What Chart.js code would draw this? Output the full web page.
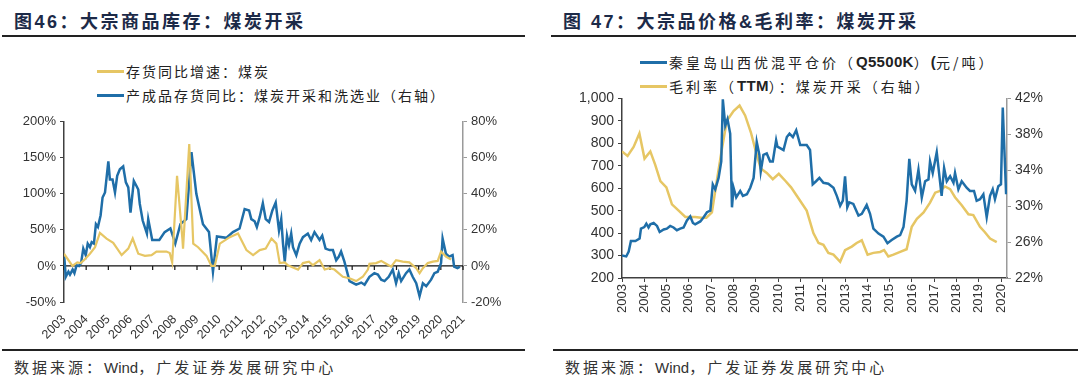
<!DOCTYPE html>
<html>
<head>
<meta charset="utf-8">
<script src="https://cdn.jsdelivr.net/npm/chart.js@4.4.1/dist/chart.umd.min.js"></script>
<style>
  body { margin: 0; width: 1080px; height: 386px; background: #fff; position: relative; overflow: hidden;
         font-family: "Liberation Sans", Arial, "Noto Sans CJK SC", sans-serif; }
  .title { position: absolute; top: 7px; font: bold 18px "Liberation Sans", "Noto Sans CJK SC", sans-serif;
           color: #1c2a48; letter-spacing: 2.5px; white-space: nowrap; }
  .rule { position: absolute; height: 2px; background: #222; }
  .legend { position: absolute; font: 14px "Noto Sans CJK SC", sans-serif; color: #222; letter-spacing: 2px; white-space: nowrap; }
  .legend div { height: 24px; line-height: 24px; display: flex; align-items: center; }
  .legend i { display: inline-block; width: 27px; height: 3px; margin-right: 2px; }
  .legend b { font-family: "Liberation Sans", Arial, sans-serif; font-size: 15px; letter-spacing: 0.3px; }
  .source { position: absolute; top: 356px; font: 15px "Noto Sans CJK SC", sans-serif; color: #333; letter-spacing: 3px; white-space: nowrap; }
  .source span { font-family: "Liberation Sans", Arial, sans-serif; letter-spacing: 0; }
  canvas { position: absolute; }
</style>
</head>
<body>
<div class="title" style="left:14px">图46：大宗商品库存：煤炭开采</div>
<div class="rule" style="left:2px; top:35px; width:523px"></div>
<div class="legend" style="left:97px; top:59px">
  <div><i style="background:#E6C664"></i>存货同比增速：煤炭</div>
  <div><i style="background:#1F6EA8"></i>产成品存货同比：煤炭开采和洗选业（右轴）</div>
</div>
<canvas id="left" width="510" height="230" style="left:0; top:110px"></canvas>
<div class="rule" style="left:2px; top:349px; width:523px; height:1.5px"></div>
<div class="source" style="left:14px">数据来源：<span>Wind</span>，广发证券发展研究中心</div>

<div class="title" style="left:563px">图 47：大宗品价格&amp;毛利率：煤炭开采</div>
<div class="rule" style="left:551px; top:35px; width:525px"></div>
<div class="legend" style="left:640px; top:50px; letter-spacing: 3px">
  <div><i style="background:#1F6EA8"></i>秦皇岛山西优混平仓价（<b>Q5500K</b>）<b>(</b>元/吨）</div>
  <div><i style="background:#E6C664"></i>毛利率（<b>TTM</b>）：煤炭开采（右轴）</div>
</div>
<canvas id="right" width="540" height="254" style="left:540px; top:86px"></canvas>
<div class="rule" style="left:553px; top:349px; width:525px; height:1.5px"></div>
<div class="source" style="left:565px">数据来源：<span>Wind</span>，广发证券发展研究中心</div>

<script>
// ---- Figure 46 data ----
const stockYears = [2003.0, 2003.38, 2003.6, 2003.75, 2003.9, 2004.17, 2004.4, 2004.62, 2004.92, 2005.22, 2005.6, 2005.9,
  2006.1, 2006.35, 2006.65, 2006.95, 2007.17, 2007.62, 2007.77, 2007.88, 2008.1, 2008.34, 2008.37, 2008.65, 2008.83,
  2009.05, 2009.43, 2009.65, 2009.8, 2010.03, 2010.48, 2010.85, 2011.23, 2011.53, 2011.83, 2012.1, 2012.36, 2012.58,
  2012.73, 2012.96, 2013.1, 2013.33, 2013.56, 2013.78, 2014.05, 2014.23, 2014.53, 2014.76, 2014.98, 2015.2, 2015.58,
  2015.88, 2016.18, 2016.48, 2016.71, 2016.78, 2017.08, 2017.31, 2017.53, 2017.76, 2017.98, 2018.28, 2018.58, 2018.89,
  2019.04, 2019.19, 2019.41, 2019.64, 2019.86, 2020.01, 2020.23, 2020.46];
const stockGrowth = [17, 0, 5, 4, 8, 17, 26, 46, 38, 32, 15, 24,
  38, 17, 14, 15, 20, 20, 18, 5, 125, 38, 24, 169, 31,
  26, 14, 0, 0, 31, 40, 45, 22, 15, 22, 24, 38, 31,
  4, 5, 1, -2, -5, 4, 6, 1, 8, -5, -3, -5, -15,
  -17, -21, -15, -5, 3, 4, 7, 3, -1, 8, 6, 5, -3,
  -10, -3, 4, 6, 7, 20, 13, 9];

const finishedYears = [2003.01, 2003.08, 2003.2, 2003.27, 2003.39, 2003.47, 2003.57, 2003.68, 2003.77, 2003.87, 2003.98,
  2004.07, 2004.17, 2004.25, 2004.35, 2004.44, 2004.53, 2004.65, 2004.74, 2004.85, 2005.0, 2005.07, 2005.19, 2005.3,
  2005.4, 2005.52, 2005.67, 2005.79, 2005.9, 2006.0, 2006.15, 2006.27, 2006.35, 2006.42, 2006.55, 2006.74, 2006.8,
  2006.98, 2007.3, 2007.54, 2007.8, 2008.02, 2008.25, 2008.52, 2008.75, 2008.97, 2009.27, 2009.54, 2009.72, 2009.9,
  2010.32, 2010.62, 2010.92, 2011.15, 2011.35, 2011.45, 2011.6, 2011.7, 2011.83, 2011.97, 2012.1, 2012.25, 2012.4,
  2012.55, 2012.7, 2012.8, 2012.88, 2012.96, 2013.06, 2013.15, 2013.25, 2013.33, 2013.48, 2013.63, 2013.78, 2014.0,
  2014.15, 2014.3, 2014.53, 2014.65, 2014.8, 2014.98, 2015.13, 2015.28, 2015.4, 2015.5, 2015.65, 2015.88, 2016.18,
  2016.41, 2016.56, 2016.78, 2017.0, 2017.16, 2017.31, 2017.46, 2017.65, 2017.83, 2017.98, 2018.1, 2018.21, 2018.43,
  2018.58, 2018.73, 2018.89, 2019.04, 2019.19, 2019.34, 2019.56, 2019.71, 2019.86, 2020.01, 2020.08, 2020.23, 2020.38,
  2020.53, 2020.6, 2020.75, 2020.86];
const finishedGrowth = [5.2, -6, -3.2, -4.8, -2, -4, 0.4, 0, 1.6, 9.6, 6,
  12.4, 10.4, 13.2, 12.4, 23.2, 21.6, 28, 38, 40.8, 58, 48, 48, 40.8,
  50, 53.6, 55.2, 46.4, 43.6, 29.6, 47.2, 44.4, 42.4, 34.4, 25.2, 18, 26,
  14.4, 14.4, 18.8, 20.8, 12.4, 23.2, 26, 63.2, 40, 23.2, 18.8, -3.2, 16.4,
  15.6, 18.8, 20.8, 31.6, 30.8, 26, 24.8, 21.6, 27.2, 34.8, 26, 24.4, 30.8,
  35.2, 19.6, 26, 12.4, 2.4, 16.8, 11.6, 18, 10.4, 6, 12.4, 16, 18,
  14.4, 18.8, 14.4, 16.8, 9.6, 8.8, 8.8, 3.2, 5.2, 8, 2.4, -8.4, -10.4,
  -9.2, -10.4, -6, -4, -4.8, -7.6, -8.4, -6, -2, -9.6, -4, -8.4, -4,
  -2, -6, -9.6, -16.8, -9.6, -11.2, -7.6, -4, -3.2, 1.6, 15.2, 6.8, 5.2,
  6, -0.4, -1.2, -0.4];
const leftYearTicks = [2003, 2004, 2005, 2006, 2007, 2008, 2009, 2010, 2011, 2012, 2013, 2014, 2015, 2016, 2017, 2018, 2019, 2020, 2021];

// ---- Figure 47 data ----
const priceYears = [2003.0, 2003.19, 2003.3, 2003.4, 2003.6, 2003.79, 2003.85, 2004.0, 2004.09, 2004.19, 2004.27, 2004.42,
  2004.57, 2004.69, 2004.87, 2005.01, 2005.16, 2005.31, 2005.46, 2005.61, 2005.76, 2005.91, 2006.06, 2006.18, 2006.28,
  2006.51, 2006.66, 2006.81, 2006.96, 2007.07, 2007.18, 2007.33, 2007.45, 2007.52, 2007.63, 2007.73, 2007.85, 2007.93,
  2008.0, 2008.12, 2008.3, 2008.42, 2008.6, 2008.75, 2008.9, 2009.04, 2009.16, 2009.22, 2009.34, 2009.49, 2009.64,
  2009.76, 2009.91, 2009.97, 2010.24, 2010.39, 2010.51, 2010.66, 2010.81, 2010.99, 2011.28, 2011.43, 2011.55, 2011.7,
  2011.85, 2012.03, 2012.25, 2012.48, 2012.63, 2012.78, 2012.9, 2013.0, 2013.1, 2013.19, 2013.37, 2013.6, 2013.75,
  2013.97, 2014.12, 2014.27, 2014.5, 2014.72, 2014.9, 2015.09, 2015.32, 2015.47, 2015.62, 2015.76, 2015.88, 2015.99,
  2016.14, 2016.29, 2016.44, 2016.59, 2016.74, 2016.81, 2016.93, 2017.11, 2017.33, 2017.44, 2017.56, 2017.71, 2017.86,
  2017.93, 2018.08, 2018.23, 2018.45, 2018.6, 2018.78, 2018.9, 2019.05, 2019.2, 2019.35, 2019.5, 2019.62, 2019.72,
  2019.87, 2019.99, 2020.07, 2020.22];
const coalPrice = [300, 296, 318, 365, 365, 376, 420, 427, 442, 425, 439, 445,
  432, 405, 416, 420, 432, 425, 413, 420, 425, 456, 474, 445, 439,
  452, 471, 493, 500, 617, 595, 646, 719, 996, 879, 908, 843, 515,
  602, 559, 588, 566, 573, 602, 646, 806, 748, 675, 748, 755, 719,
  719, 814, 785, 770, 828, 843, 828, 858, 792, 792, 770, 617, 631,
  646, 624, 620, 602, 566, 522, 545, 653, 515, 537, 530, 478, 486,
  525, 486, 420, 398, 384, 355, 369, 384, 391, 427, 544, 731, 617,
  588, 682, 559, 631, 639, 719, 668, 760, 566, 690, 631, 653, 624,
  668, 595, 631, 602, 588, 588, 544, 551, 573, 471, 566, 595, 551,
  609, 617, 959, 573];
const marginYears = [2003.0, 2003.25, 2003.52, 2003.78, 2004.01, 2004.27, 2004.49, 2004.72, 2004.99, 2005.24, 2005.54,
  2005.84, 2006.06, 2006.28, 2006.54, 2006.78, 2007.03, 2007.25, 2007.48, 2007.7, 2008.0, 2008.27, 2008.52, 2008.78,
  2009.0, 2009.22, 2009.49, 2009.76, 2010.03, 2010.33, 2010.58, 2010.85, 2011.28, 2011.58, 2011.81, 2012.03, 2012.25,
  2012.48, 2012.78, 2013.0, 2013.3, 2013.52, 2013.75, 2014.01, 2014.27, 2014.57, 2014.75, 2014.94, 2015.17, 2015.47,
  2015.76, 2015.99, 2016.22, 2016.52, 2016.81, 2017.04, 2017.26, 2017.48, 2017.71, 2017.93, 2018.23, 2018.53, 2018.75,
  2019.05, 2019.27, 2019.5, 2019.8];
const grossMargin = [36.1, 35.6, 36.6, 38.1, 35.3, 36.1, 34.6, 32.8, 32.1, 30.2, 29.5,
  28.8, 28.8, 28.8, 28.7, 28.7, 29.3, 32.8, 36.4, 39.5, 40.6, 41.2, 40.1, 38.2,
  36.1, 34.2, 33.7, 33.0, 33.6, 32.8, 32.1, 31.1, 29.5, 27.0, 25.9, 25.7, 24.8,
  24.6, 23.8, 25.1, 25.5, 25.9, 26.2, 24.6, 24.8, 24.9, 25.1, 24.4, 24.6, 24.9,
  25.2, 27.7, 28.6, 29.3, 30.4, 31.5, 31.7, 32.2, 31.9, 31.0, 30.1, 29.1, 29.0,
  27.7, 27.1, 26.4, 26.0];
const rightYearTicks = [2003, 2004, 2005, 2006, 2007, 2008, 2009, 2010, 2011, 2012, 2013, 2014, 2015, 2016, 2017, 2018, 2019, 2020];

const BLUE = "#1F6EA8";
const GOLD = "#E6C664";
const pts = (xs, ys) => xs.map((x, i) => ({ x: x, y: ys[i] }));
const tickFont = { family: "'Liberation Sans', Arial, sans-serif", size: 13 };

Chart.defaults.animation = false;
Chart.defaults.color = "#333";

// zero line with small year ticks for fig 46
const zeroLine = {
  id: "zeroLine",
  beforeDatasetsDraw(chart) {
    const { ctx, chartArea, scales } = chart;
    const y0 = scales.y.getPixelForValue(0);
    ctx.save();
    ctx.strokeStyle = "#111";
    ctx.lineWidth = 1.2;
    ctx.beginPath();
    ctx.moveTo(chartArea.left, y0);
    ctx.lineTo(chartArea.right, y0);
    leftYearTicks.forEach(v => {
      const x = scales.x.getPixelForValue(v);
      ctx.moveTo(x, y0);
      ctx.lineTo(x, y0 + 4);
    });
    ctx.stroke();
    ctx.restore();
  }
};

new Chart(document.getElementById("left"), {
  type: "line",
  data: {
    datasets: [
      { label: "存货同比增速：煤炭", data: pts(stockYears, stockGrowth), yAxisID: "y",
        borderColor: GOLD, borderWidth: 2.2, pointRadius: 0, tension: 0 },
      { label: "产成品存货同比：煤炭开采和洗选业（右轴）", data: pts(finishedYears, finishedGrowth), yAxisID: "y1",
        borderColor: BLUE, borderWidth: 2.5, pointRadius: 0, tension: 0 }
    ]
  },
  options: {
    responsive: false,
    devicePixelRatio: 1,
    layout: { padding: { top: 10 } },
    plugins: { legend: { display: false }, tooltip: { enabled: false } },
    scales: {
      x: {
        type: "linear", min: 2003, max: 2021,
        afterBuildTicks: s => { s.ticks = leftYearTicks.map(v => ({ value: v })); },
        afterFit: s => { s.height = 38; },
        grid: { display: false }, border: { display: false },
        ticks: { autoSkip: false, minRotation: 45, maxRotation: 45, padding: 2,
                 font: { family: tickFont.family, size: 12.5 }, color: "#333", callback: v => String(v) }
      },
      y: {
        position: "left", min: -50, max: 200,
        afterFit: s => { s.width = 64; },
        ticks: { stepSize: 50, font: tickFont, color: "#333", padding: 4, callback: v => v + "%" },
        grid: { drawOnChartArea: false, tickLength: 4, color: "#404040" },
        border: { color: "#404040", width: 1.5 }
      },
      y1: {
        position: "right", min: -20, max: 80,
        afterFit: s => { s.width = 47; },
        ticks: { stepSize: 20, font: tickFont, color: "#333", padding: 4, callback: v => v + "%" },
        grid: { drawOnChartArea: false, tickLength: 4, color: "#9a9a9a" },
        border: { color: "#9a9a9a", width: 1.5 }
      }
    }
  },
  plugins: [zeroLine]
});

new Chart(document.getElementById("right"), {
  type: "line",
  data: {
    datasets: [
      { label: "秦皇岛山西优混平仓价（Q5500K）(元/吨）", data: pts(priceYears, coalPrice), yAxisID: "y",
        borderColor: BLUE, borderWidth: 2.5, pointRadius: 0, tension: 0 },
      { label: "毛利率（TTM）：煤炭开采（右轴）", data: pts(marginYears, grossMargin), yAxisID: "y1",
        borderColor: GOLD, borderWidth: 2.5, pointRadius: 0, tension: 0 }
    ]
  },
  options: {
    responsive: false,
    devicePixelRatio: 1,
    layout: { padding: { top: 10 } },
    plugins: { legend: { display: false }, tooltip: { enabled: false } },
    scales: {
      x: {
        type: "linear", min: 2003, max: 2020.26,
        afterBuildTicks: s => { s.ticks = rightYearTicks.map(v => ({ value: v })); },
        afterFit: s => { s.height = 62; },
        grid: { drawOnChartArea: false, tickLength: 4, color: "#404040" },
        border: { color: "#404040", width: 1.5 },
        ticks: { autoSkip: false, minRotation: 90, maxRotation: 90, padding: 2, font: tickFont, color: "#333",
                 callback: v => String(v) }
      },
      y: {
        position: "left", min: 200, max: 1000,
        afterFit: s => { s.width = 82; },
        ticks: { stepSize: 100, font: { family: tickFont.family, size: 14 }, color: "#333", padding: 4,
                 callback: v => v.toLocaleString("en-US") },
        grid: { drawOnChartArea: false, tickLength: 4, color: "#404040" },
        border: { color: "#404040", width: 1.5 }
      },
      y1: {
        position: "right", min: 22, max: 42,
        afterFit: s => { s.width = 73; },
        ticks: { stepSize: 4, font: { family: tickFont.family, size: 14 }, color: "#333", padding: 4, callback: v => v + "%" },
        grid: { drawOnChartArea: false, tickLength: 4, color: "#9a9a9a" },
        border: { color: "#9a9a9a", width: 1.5 }
      }
    }
  }
});
</script>
</body>
</html>
